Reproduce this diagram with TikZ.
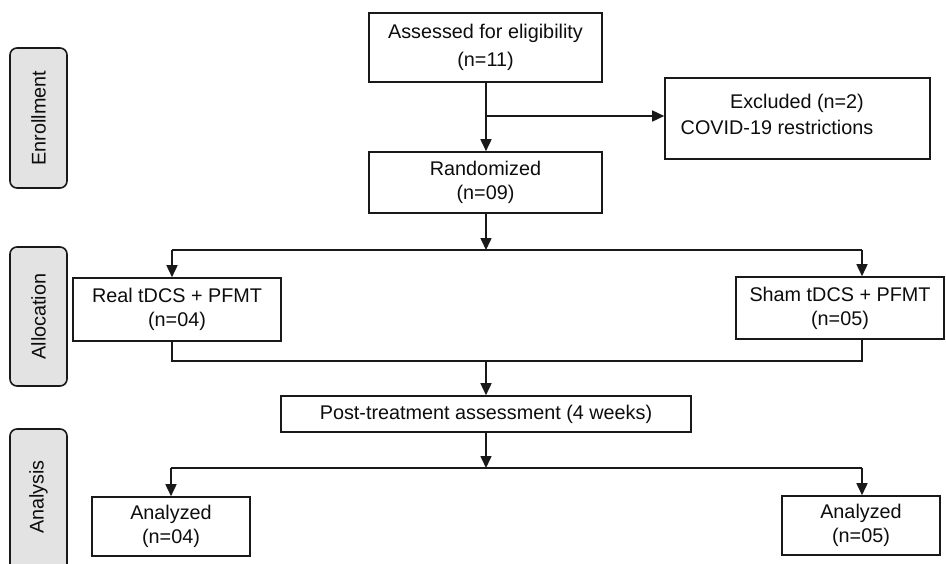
\documentclass[tikz,border=0pt]{standalone}
\usepackage{fontspec}
\setmainfont{Liberation Sans}
\usetikzlibrary{arrows.meta}
\begin{document}
\begin{tikzpicture}[x=1pt,y=-1pt,
  box/.style={draw=black!90,line width=1.6pt,fill=white,inner sep=0pt,align=center,
     font=\fontsize{19.8}{24}\selectfont,text=black!95},
  side/.style={draw=black!90,line width=1.6pt,fill=black!11,rounded corners=7pt,inner sep=0pt,
     minimum width=57pt},
  sidetext/.style={rotate=90,font=\fontsize{19.8}{24}\selectfont,text=black!95},
  conn/.style={draw=black!90,line width=1.6pt},
  arr/.style={conn,-{Triangle[length=12pt,width=11pt]}}]
\useasboundingbox (0,0) rectangle (946,563);
\begin{scope}
\clip (0,0) rectangle (946,563);
% side labels
\node[side,minimum height=140pt] (enr) at (38.5,118) {};
\node[sidetext] (enrt) at (enr.center) {Enrollment};
\node[side,minimum height=139pt] (all) at (38.5,316.5) {};
\node[sidetext] (allt) at (all.center) {Allocation};
\node[side,minimum height=146pt] (ana) at (38.5,502) {};
\node[sidetext] (anat) at (38.5,497) {Analysis};
\end{scope}
% boxes
\node[box,minimum width=233pt,minimum height=69pt] (assess) at (485.5,47.5) {Assessed for eligibility\\[4pt](n=11)};
\node[box,minimum width=233pt,minimum height=61pt] (rand) at (485.5,182.5) {Randomized\\(n=09)};
\node[box,minimum width=265pt,minimum height=81pt] (excl) at (797.5,118.5) {};
\node[font=\fontsize{19.8}{24}\selectfont,text=black!95] (exclt1) at (797,103) {Excluded (n=2)};
\node[font=\fontsize{19.8}{24}\selectfont,text=black!95] (exclt2) at (777,127) {COVID-19 restrictions};
\node[box,minimum width=208pt,minimum height=63pt] (real) at (177,309.5) {Real tDCS + PFMT\\(n=04)};
\node[box,minimum width=208pt,minimum height=62pt] (sham) at (840,308) {Sham tDCS + PFMT\\(n=05)};
\node[box,minimum width=410pt,minimum height=36pt] (post) at (486,414) {Post-treatment assessment (4 weeks)};
\node[box,minimum width=158pt,minimum height=59pt] (an1) at (171,526.5) {Analyzed\\(n=04)};
\node[box,minimum width=158pt,minimum height=59pt] (an2) at (861,525.5) {Analyzed\\(n=05)};
% coordinates
\coordinate (b1) at (486,116);
\coordinate (s1) at (486,250);
\coordinate (s1l) at (172,250);
\coordinate (s1r) at (862,250);
\coordinate (j1) at (486,361);
\coordinate (j1l) at (172,361);
\coordinate (j1r) at (862,361);
\coordinate (s2) at (486,468);
\coordinate (s2l) at (171,468);
\coordinate (s2r) at (862,468);
% connectors
\draw[arr] (assess.south -| b1) -- (rand.north -| b1);
\draw[arr] (b1) -- (b1 -| excl.west);
\draw[arr] (rand.south -| s1) -- (s1);
\draw[conn] (s1l) -- (s1r);
\draw[arr] (s1l) -- (s1l |- real.north);
\draw[arr] (s1r) -- (s1r |- sham.north);
\draw[conn] (real.south -| j1l) -- (j1l) -- (j1r) -- (sham.south -| j1r);
\draw[arr] (j1) -- (post.north -| j1);
\draw[arr] (post.south -| s2) -- (s2);
\draw[conn] (s2l) -- (s2r);
\draw[arr] (s2l) -- (s2l |- an1.north);
\draw[arr] (s2r) -- (s2r |- an2.north);
\end{tikzpicture}
\end{document}
